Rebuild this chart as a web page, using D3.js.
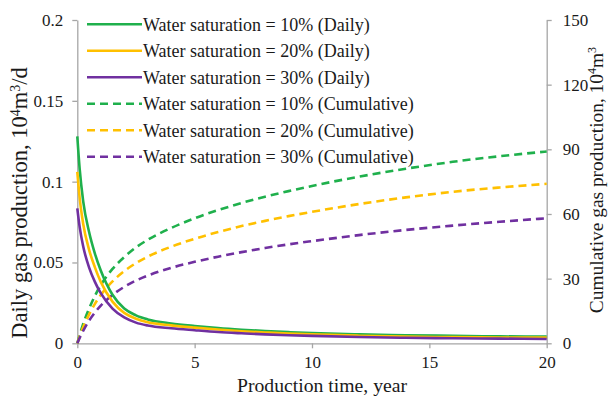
<!DOCTYPE html>
<html><head><meta charset="utf-8">
<script src="https://cdn.jsdelivr.net/npm/d3@7/dist/d3.min.js"></script>
<style>
html,body{margin:0;padding:0;background:#fff;}
svg{display:block;}
text{font-family:"Liberation Serif","Times New Roman",serif;fill:#1a1a1a;}
</style></head>
<body>
<svg id="chart" width="610" height="396" font-family="Liberation Serif, serif"></svg>
<script>
// ---- data ----
const timeYears = [0, 0.1, 0.25, 0.5, 0.75, 1, 1.5, 2, 2.5, 3, 4, 5, 6, 7, 8, 9, 10, 12, 14, 16, 18, 20];
const daily10 = [0.128, 0.108, 0.088, 0.069, 0.0555, 0.045, 0.0300, 0.0215, 0.0173, 0.0148, 0.0123, 0.0107, 0.0094, 0.0084, 0.0076, 0.0069, 0.0063, 0.0055, 0.0050, 0.0046, 0.0043, 0.0041];
const daily20 = [0.106, 0.090, 0.074, 0.058, 0.047, 0.038, 0.0258, 0.0188, 0.0152, 0.0130, 0.0111, 0.0097, 0.0085, 0.0075, 0.0067, 0.0060, 0.0055, 0.0047, 0.0041, 0.0038, 0.0036, 0.0035];
const daily30 = [0.0835, 0.072, 0.060, 0.047, 0.038, 0.031, 0.0215, 0.0160, 0.0128, 0.0110, 0.0093, 0.0081, 0.0070, 0.0062, 0.0055, 0.0050, 0.0046, 0.0039, 0.0034, 0.0031, 0.0029, 0.0027];
const cum10 = [0, 3.8, 9, 16, 22, 27, 34.5, 40, 44.5, 48, 53.5, 58, 61.8, 65.1, 68.0, 70.6, 73.0, 77.3, 81.0, 84.2, 86.8, 89.0];
const cum20 = [0, 3.2, 7.5, 13.3, 18.3, 22.4, 28.7, 33.5, 37.2, 40.2, 44.8, 48.5, 51.6, 54.4, 56.8, 59.0, 61.0, 64.6, 67.7, 70.3, 72.3, 74.0];
const cum30 = [0, 2.5, 5.8, 10.5, 14.3, 17.5, 22.4, 26.2, 29.1, 31.4, 35.0, 37.8, 40.2, 42.3, 44.2, 45.9, 47.4, 50.2, 52.6, 54.6, 56.4, 58.0];
const xTicks = [0, 5, 10, 15, 20];
const yLeftTicks = [0, 0.05, 0.1, 0.15, 0.2];
const yRightTicks = [0, 30, 60, 90, 120, 150];
const legendLabels = [
  "Water saturation = 10% (Daily)",
  "Water saturation = 20% (Daily)",
  "Water saturation = 30% (Daily)",
  "Water saturation = 10% (Cumulative)",
  "Water saturation = 20% (Cumulative)",
  "Water saturation = 30% (Cumulative)"
];
const colors = ["#1fb04c", "#ffc000", "#7030a0"];

// ---- layout ----
const svg = d3.select("#chart");
const m = {left: 77.3, right: 546.7, top: 20, bottom: 343.3};
const x = d3.scaleLinear().domain([0, 20]).range([m.left, m.right]);
const yL = d3.scaleLinear().domain([0, 0.2]).range([m.bottom, m.top]);
const yR = d3.scaleLinear().domain([0, 150]).range([m.bottom, m.top]);
const axisColor = "#a6a6a6";
const serif = '"Liberation Serif", "Times New Roman", serif';

function styleAxis(g) {
  g.attr("font-family", null).attr("font-size", null);
  g.select(".domain").attr("stroke", axisColor).attr("stroke-width", 1.3);
  g.selectAll(".tick line").attr("stroke", axisColor).attr("stroke-width", 1.3);
  g.selectAll(".tick text").style("font-size", "17px").attr("fill", "#1a1a1a")
    .style("font-family", serif);
}

svg.append("g").attr("transform", `translate(0,${m.bottom})`)
  .call(d3.axisBottom(x).tickValues(xTicks).tickSize(5).tickSizeOuter(0).tickPadding(8).tickFormat(d3.format("d")))
  .call(styleAxis);
svg.append("g").attr("transform", `translate(${m.left},0)`)
  .call(d3.axisLeft(yL).tickValues(yLeftTicks).tickSize(5).tickSizeOuter(0).tickPadding(9).tickFormat(d => d === 0 ? "0" : String(+d.toFixed(2))))
  .call(styleAxis);
svg.append("g").attr("transform", `translate(${m.right},0)`)
  .call(d3.axisRight(yR).tickValues(yRightTicks).tickSize(5).tickSizeOuter(0).tickPadding(11).tickFormat(d3.format("d")))
  .call(styleAxis);

// ---- lines ----
const dailySeries = [daily10, daily20, daily30];
const cumSeries = [cum10, cum20, cum30];
const lineL = d3.line().x((d, i) => x(timeYears[i])).y(d => yL(d)).curve(d3.curveMonotoneX);
const lineR = d3.line().x((d, i) => x(timeYears[i])).y(d => yR(d)).curve(d3.curveMonotoneX);

cumSeries.forEach((s, k) => {
  svg.append("path").datum(s).attr("d", lineR).attr("fill", "none")
    .attr("stroke", colors[k]).attr("stroke-width", 2.6).attr("stroke-dasharray", "8,5");
});
dailySeries.forEach((s, k) => {
  svg.append("path").datum(s).attr("d", lineL).attr("fill", "none")
    .attr("stroke", colors[k]).attr("stroke-width", 2.6);
});

// ---- legend ----
const lg = svg.append("g");
legendLabels.forEach((lab, i) => {
  const yy = 24.3 + i * 26.5;
  lg.append("line").attr("x1", 87).attr("x2", 142).attr("y1", yy).attr("y2", yy)
    .attr("stroke", colors[i % 3]).attr("stroke-width", 2.6)
    .attr("stroke-dasharray", i >= 3 ? "8,5" : null);
  lg.append("text").attr("x", 143).attr("y", yy).attr("dy", "0.35em")
    .style("font-family", serif).style("font-size", "18px").text(lab);
});

// ---- axis titles ----
svg.append("text").attr("x", 322).attr("y", 392).attr("text-anchor", "middle")
  .style("font-family", serif).style("font-size", "19.7px").text("Production time, year");

const lt = svg.append("text").attr("transform", "translate(27,203) rotate(-90)")
  .attr("text-anchor", "middle").style("font-family", serif).style("font-size", "22.5px");
lt.append("tspan").text("Daily gas production, 10");
lt.append("tspan").attr("baseline-shift", "super").style("font-size", "0.62em").text("4");
lt.append("tspan").text("m");
lt.append("tspan").attr("baseline-shift", "super").style("font-size", "0.62em").text("3");
lt.append("tspan").text("/d");

const rt = svg.append("text").attr("transform", "translate(603,180) rotate(-90)")
  .attr("text-anchor", "middle").style("font-family", serif).style("font-size", "19.4px");
rt.append("tspan").text("Cumulative gas production, 10");
rt.append("tspan").attr("baseline-shift", "super").style("font-size", "0.62em").text("4");
rt.append("tspan").text("m");
rt.append("tspan").attr("baseline-shift", "super").style("font-size", "0.62em").text("3");
</script>
</body></html>
